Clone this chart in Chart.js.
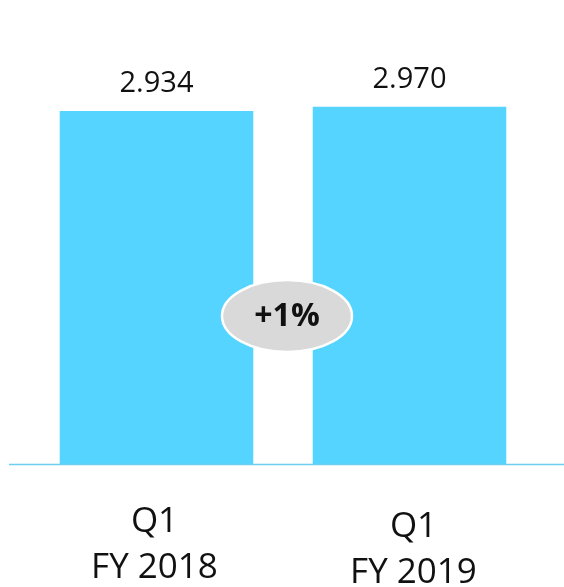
<!DOCTYPE html>
<html>
<head>
<meta charset="utf-8">
<script src="https://cdn.jsdelivr.net/npm/chart.js@4"></script>
<style>
  html, body { margin: 0; padding: 0; background: #fff; }
  #wrap { width: 564px; height: 587px; }
</style>
</head>
<body>
<div id="wrap"><canvas id="chart" width="564" height="587"></canvas></div>
<script>
// data
const quarters = ['Q1', 'Q1'];
const fiscalYears = ['FY 2018', 'FY 2019'];
const revenue = [2.934, 2.970];
const changeLabel = '+1%';

const barColor = '#55D4FF';
const textColor = '#111111';

// values above the bars, the x labels, the baseline and the change bubble
const extrasPlugin = {
  id: 'extras',
  afterDatasetsDraw(chart) {
    const ctx = chart.ctx;
    const x = chart.scales.x;
    const y = chart.scales.y;
    const meta = chart.getDatasetMeta(0);

    ctx.save();

    // baseline
    const base = y.getPixelForValue(0);
    ctx.strokeStyle = '#6CCFF0';
    ctx.lineWidth = 1.5;
    ctx.beginPath();
    ctx.moveTo(9, base + 0.5);
    ctx.lineTo(chart.width, base + 0.5);
    ctx.stroke();

    // value labels
    ctx.fillStyle = textColor;
    ctx.textAlign = 'center';
    ctx.textBaseline = 'middle';
    ctx.font = '29px "Open Sans", sans-serif';
    meta.data.forEach((bar, i) => {
      ctx.fillText(revenue[i].toFixed(3), bar.x, bar.y - 27);
    });

    // category labels (second one sits a little lower and to the right in the original)
    ctx.font = '35px "Open Sans", sans-serif';
    quarters.forEach((q, i) => {
      const cx = x.getPixelForValue(i) + (i === 1 ? 4 : -2);
      const dy = i === 1 ? 5 : 0;
      ctx.fillText(q, cx, 522 + dy);
      ctx.fillText(fiscalYears[i], cx, 568 + dy);
    });

    // change bubble between the bars
    const mx = (meta.data[0].x + meta.data[1].x) / 2 + 4;
    const my = 316;
    ctx.beginPath();
    ctx.ellipse(mx, my, 65, 36, 0, 0, Math.PI * 2);
    ctx.fillStyle = '#D9D9D9';
    ctx.fill();
    ctx.lineWidth = 2.5;
    ctx.strokeStyle = '#ffffff';
    ctx.stroke();
    ctx.fillStyle = textColor;
    ctx.font = 'bold 32px "Open Sans", sans-serif';
    ctx.fillText(changeLabel, mx, my + 1);

    ctx.restore();
  }
};

new Chart(document.getElementById('chart'), {
  type: 'bar',
  data: {
    labels: fiscalYears,
    datasets: [{
      data: revenue,
      backgroundColor: barColor,
      borderWidth: 0,
      barPercentage: 0.765,
      categoryPercentage: 1
    }]
  },
  options: {
    responsive: false,
    animation: false,
    layout: { padding: { left: 30, right: 28, top: 43, bottom: 123 } },
    plugins: {
      legend: { display: false },
      tooltip: { enabled: false }
    },
    scales: {
      x: { display: false },
      y: { display: false, min: 0, max: 3.5 }
    }
  },
  plugins: [extrasPlugin]
});
</script>
</body>
</html>
